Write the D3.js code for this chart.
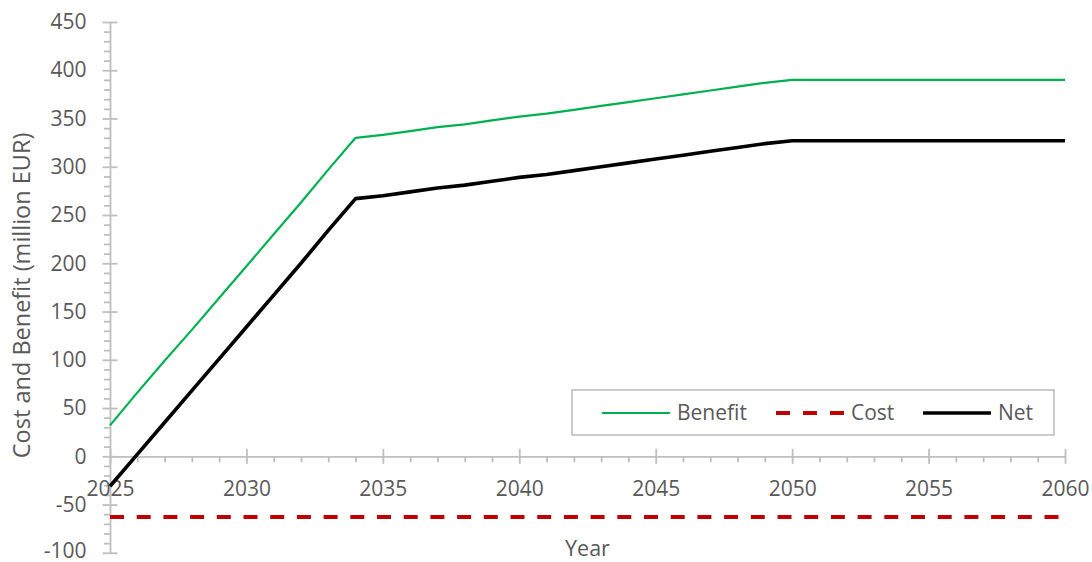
<!DOCTYPE html>
<html>
<head>
<meta charset="utf-8">
<script src="https://cdn.jsdelivr.net/npm/d3@7"></script>
<style>
  html, body { margin: 0; padding: 0; background: #fff; }
  svg { display: block; font-family: "Open Sans", "Liberation Sans", sans-serif; }
</style>
</head>
<body>
<svg id="chart" width="1092" height="562"></svg>
<script>
// Annual values, million EUR
const years = d3.range(2025, 2061);
const benefit = [
  32, 66, 99, 131, 164, 197, 230, 263, 297, 330,
  333, 337, 341, 344, 348, 352, 355, 359, 363, 367,
  371, 375, 379, 383, 387, 390,
  390, 390, 390, 390, 390, 390, 390, 390, 390, 390
];
const cost = [
  -63, -63, -63, -63, -63, -63, -63, -63, -63, -63,
  -63, -63, -63, -63, -63, -63, -63, -63, -63, -63,
  -63, -63, -63, -63, -63, -63,
  -63, -63, -63, -63, -63, -63, -63, -63, -63, -63
];
const net = [
  -31, 2, 35, 68, 101, 134, 167, 200, 234, 267,
  270, 274, 278, 281, 285, 289, 292, 296, 300, 304,
  308, 312, 316, 320, 324, 327,
  327, 327, 327, 327, 327, 327, 327, 327, 327, 327
];
const xTicks = [2025, 2030, 2035, 2040, 2045, 2050, 2055, 2060];
const yTicks = [-100, -50, 0, 50, 100, 150, 200, 250, 300, 350, 400, 450];
const seriesNames = ["Benefit", "Cost", "Net"];

const svg = d3.select("#chart");
const axisColor = "#bfbfbf";
const textColor = "#595959";

const x = d3.scaleLinear().domain([2025, 2060]).range([110, 1065]);
const y = d3.scaleLinear().domain([-100, 450]).range([552.8, 22]);

// ---- Y axis ----
const yMinor = d3.range(-100, 451, 10).filter(v => v % 50 !== 0);
const gyMinor = svg.append("g").attr("transform", `translate(${x(2025)},0)`)
  .call(d3.axisLeft(y).tickValues(yMinor).tickSize(6).tickFormat(""));
gyMinor.select(".domain").remove();

const gy = svg.append("g").attr("transform", `translate(${x(2025)},0)`)
  .call(d3.axisLeft(y).tickValues(yTicks).tickFormat(d => String(d))
    .tickSize(7.5).tickPadding(16).tickSizeOuter(0));
gy.selectAll(".tick line").attr("x1", 7.5);
// keep the lowest label inside the canvas
gy.selectAll(".tick text").filter(d => d === -100).attr("dy", "0.2em");

// ---- X axis (at zero) ----
const xMinor = years.filter(v => v % 5 !== 0);
const gxMinor = svg.append("g").attr("transform", `translate(0,${y(0)})`)
  .call(d3.axisBottom(x).tickValues(xMinor).tickSize(6).tickFormat(""));
gxMinor.select(".domain").remove();

const gx = svg.append("g").attr("transform", `translate(0,${y(0)})`)
  .call(d3.axisBottom(x).tickValues(xTicks).tickFormat(d => String(d))
    .tickSize(7.5).tickPadding(17).tickSizeOuter(0));
gx.selectAll(".tick line").attr("y1", -7.5);

svg.selectAll(".domain, .tick line").attr("stroke", axisColor).attr("stroke-width", 1.8);
svg.selectAll(".tick text").attr("fill", textColor).attr("font-size", 21)
  .attr("font-family", "'Open Sans', sans-serif");

// ---- Axis titles ----
svg.append("text")
  .attr("transform", `translate(30,${(y(-100) + y(450)) / 2 + 8}) rotate(-90)`)
  .attr("text-anchor", "middle")
  .attr("fill", textColor).attr("font-size", 23.5)
  .text("Cost and Benefit (million EUR)");

svg.append("text")
  .attr("x", (x(2025) + x(2060)) / 2).attr("y", 556)
  .attr("text-anchor", "middle")
  .attr("fill", textColor).attr("font-size", 21.5)
  .text("Year");

// ---- Series ----
const line = d3.line().x((d, i) => x(years[i])).y(d => y(d));

svg.append("path").datum(cost)
  .attr("d", line).attr("fill", "none")
  .attr("stroke", "#c00000").attr("stroke-width", 4)
  .attr("stroke-dasharray", "14,12.7");

svg.append("path").datum(benefit)
  .attr("d", line).attr("fill", "none")
  .attr("stroke", "#00b050").attr("stroke-width", 2.2)
  .attr("stroke-linejoin", "round");

svg.append("path").datum(net)
  .attr("d", line).attr("fill", "none")
  .attr("stroke", "#000").attr("stroke-width", 3.6)
  .attr("stroke-linejoin", "round");

// ---- Legend ----
const legend = svg.append("g");
legend.append("rect")
  .attr("x", 572).attr("y", 390).attr("width", 482).attr("height", 45)
  .attr("fill", "#fff").attr("stroke", axisColor).attr("stroke-width", 1.6);

const legendItems = [
  { name: seriesNames[0], x: 602, color: "#00b050", width: 2.2, dash: null },
  { name: seriesNames[1], x: 776, color: "#c00000", width: 4, dash: "14,13" },
  { name: seriesNames[2], x: 923, color: "#000", width: 3.6, dash: null }
];
legendItems.forEach(it => {
  legend.append("line")
    .attr("x1", it.x).attr("x2", it.x + 68)
    .attr("y1", 413).attr("y2", 413)
    .attr("stroke", it.color).attr("stroke-width", it.width)
    .attr("stroke-dasharray", it.dash);
  legend.append("text")
    .attr("x", it.x + 75).attr("y", 413).attr("dy", "0.35em")
    .attr("fill", textColor).attr("font-size", 21)
    .text(it.name);
});
</script>
</body>
</html>
